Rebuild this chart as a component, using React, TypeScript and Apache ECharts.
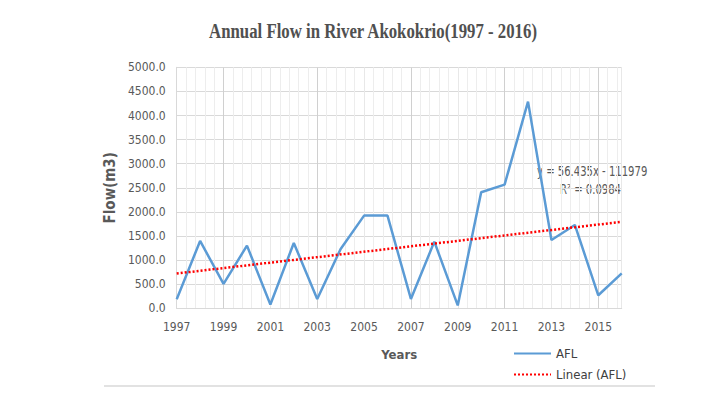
import React, { useEffect, useRef } from "react";
import * as echarts from "echarts";

const years = [1997, 1998, 1999, 2000, 2001, 2002, 2003, 2004, 2005, 2006, 2007, 2008, 2009, 2010, 2011, 2012, 2013, 2014, 2015, 2016];
const flow = [187, 1397, 505, 1300, 80, 1355, 194, 1231, 1923, 1923, 194, 1383, 60, 2407, 2566, 4288, 1418, 1729, 270, 726];
const trendSlope = 56.435;
const trendIntercept = -111979;
const majorGridYears = [1999, 2003, 2007, 2011, 2015];
const titleText = "Annual Flow in River Akokokrio(1997 - 2016)";
const equationText = "y = 56.435x - 111979";
const r2Text = "R² = 0.0984";

const NARROW = "'DejaVu Sans Condensed', 'DejaVu Sans', sans-serif";

export default function App() {
  const ref = useRef<HTMLDivElement>(null);
  useEffect(() => {
    if (!ref.current) return;
    const chart = echarts.init(ref.current, null, { renderer: "svg" });
    const xMin = years[0];
    const xMax = years[years.length - 1];
    const afl = years.map((y, i) => [y, flow[i]]);
    const trend = [xMin, xMax].map((x) => [x, trendSlope * x + trendIntercept]);
    chart.setOption({
      animation: false,
      backgroundColor: "#ffffff",
      grid: { left: 176.7, right: 100.3, top: 67.3, bottom: 84.7, containLabel: false },
      xAxis: {
        type: "value",
        min: xMin,
        max: xMax,
        interval: 2,
        name: "Years",
        nameLocation: "middle",
        nameGap: 40,
        nameTextStyle: { fontFamily: NARROW, fontWeight: "bold", fontSize: 13, color: "#595959" },
        axisLine: { show: true, lineStyle: { color: "#d9d9d9", width: 1 } },
        axisTick: { show: false },
        axisLabel: {
          showMaxLabel: false,
          margin: 13,
          fontFamily: NARROW,
          fontSize: 12,
          color: "#595959",
          formatter: (v: number) => String(v),
        },
        splitLine: { show: true, lineStyle: { color: "#e8e8e8", width: 1 } },
        minorTick: { show: false, splitNumber: 5 },
        minorSplitLine: { show: true, lineStyle: { color: "#ededed", width: 1 } },
      },
      yAxis: {
        type: "value",
        min: 0,
        max: 5000,
        interval: 500,
        name: "Flow(m3)",
        nameLocation: "middle",
        nameGap: 35,
        nameRotate: 90,
        nameTextStyle: { fontFamily: NARROW, fontWeight: "bold", fontSize: 15, color: "#595959" },
        axisLine: { show: true, lineStyle: { color: "#d9d9d9", width: 1 } },
        axisTick: { show: false },
        axisLabel: {
          margin: 11,
          fontFamily: NARROW,
          fontSize: 12,
          color: "#595959",
          formatter: (v: number) => v.toFixed(1),
        },
        splitLine: { show: true, lineStyle: { color: "#d9d9d9", width: 1 } },
      },
      legend: {
        orient: "vertical",
        left: 508,
        top: 342,
        itemWidth: 37,
        itemHeight: 12,
        itemGap: 8,
        itemStyle: { opacity: 0 },
        textStyle: { fontFamily: NARROW, fontSize: 13, color: "#404040" },
        data: ["AFL", "Linear (AFL)"],
      },
      series: [
        {
          name: "AFL",
          type: "line",
          data: afl,
          showSymbol: false,
          symbol: "none",
          lineStyle: { color: "#5b9bd5", width: 2.5 },
          itemStyle: { color: "#5b9bd5" },
          z: 3,
          markLine: {
            silent: true,
            symbol: "none",
            label: { show: false },
            lineStyle: { color: "#d0d0d0", width: 1, type: "solid" },
            data: majorGridYears.map((y) => ({ xAxis: y })),
            z: 1,
          },
        },
        {
          name: "Linear (AFL)",
          type: "line",
          data: trend,
          showSymbol: false,
          symbol: "none",
          lineStyle: { color: "#ff0000", width: 2.5, type: [2, 2] },
          itemStyle: { color: "#ff0000" },
          z: 4,
        },
      ],
      graphic: [
        {
          type: "text",
          x: 373,
          y: 32,
          scaleX: 0.84,
          style: {
            text: titleText,
            font: "bold 20px 'Liberation Serif', 'DejaVu Serif', serif",
            fill: "#505050",
            textAlign: "center",
            textVerticalAlign: "middle",
          },
        },
        {
          type: "text",
          x: 537,
          y: 171,
          scaleX: 0.8,
          style: {
            text: equationText,
            font: "14px " + NARROW,
            fill: "#595959",
            textAlign: "left",
            textVerticalAlign: "middle",
          },
        },
        {
          type: "text",
          x: 621,
          y: 189,
          scaleX: 0.8,
          style: {
            text: r2Text,
            font: "14px " + NARROW,
            fill: "#595959",
            textAlign: "right",
            textVerticalAlign: "middle",
          },
        },
        {
          type: "line",
          shape: { x1: 104, y1: 386, x2: 655, y2: 386 },
          style: { stroke: "#d9d9d9", lineWidth: 1.5 },
        },
      ],
    });
    return () => chart.dispose();
  }, []);
  return (
    <div
      ref={ref}
      style={{ position: "fixed", left: 0, top: 0, width: 722, height: 393, background: "#fff" }}
    />
  );
}
